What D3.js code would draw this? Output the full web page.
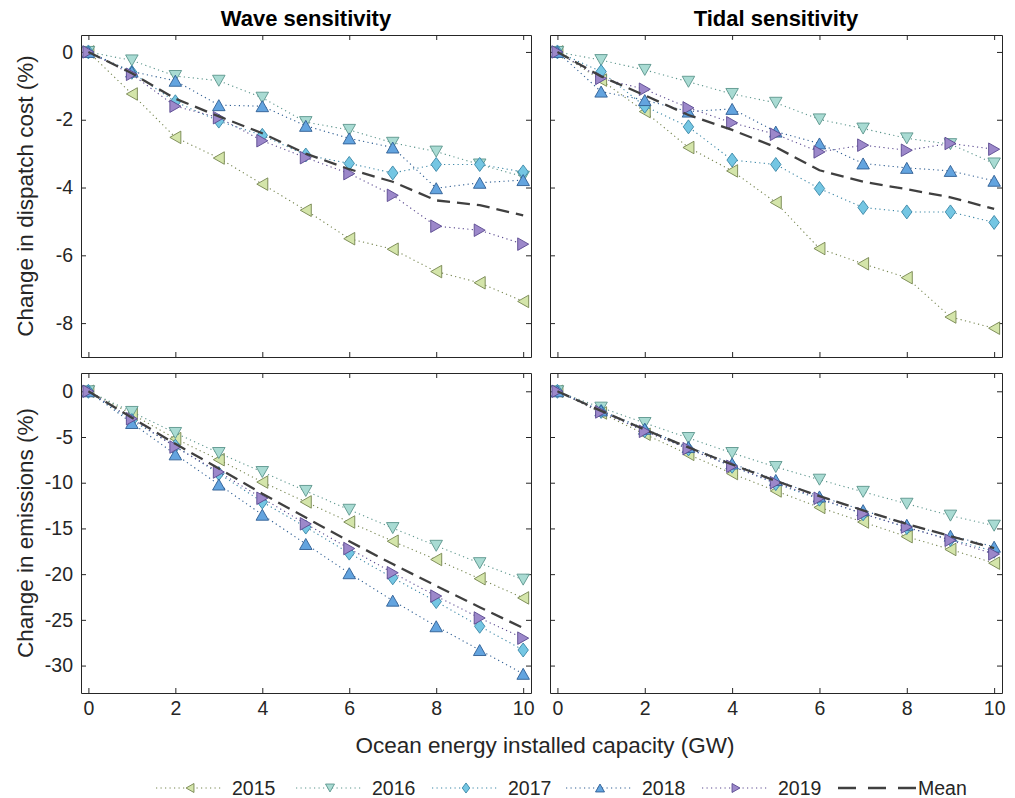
<!DOCTYPE html>
<html>
<head>
<meta charset="utf-8">
<script src="https://cdn.jsdelivr.net/npm/d3@7"></script>
<style>
  body { margin: 0; background: #fff; }
  svg { font-family: "Liberation Sans", Arial, Helvetica, sans-serif; }
</style>
</head>
<body>
<div id="chart"></div>
<script type="text/javascript">

// installed capacity (GW)
var capacity = [0, 1, 2, 3, 4, 5, 6, 7, 8, 9, 10];
var years = ["2015", "2016", "2017", "2018", "2019"];

// change in dispatch cost (%), wave sensitivity, one row per year
var waveCost = [
    [0, -1.24, -2.52, -3.13, -3.90, -4.67, -5.51, -5.82, -6.48, -6.81, -7.36],
    [0, -0.25, -0.71, -0.85, -1.35, -2.07, -2.30, -2.68, -2.94, -3.32, -3.68],
    [0, -0.60, -1.47, -2.04, -2.46, -3.04, -3.29, -3.57, -3.32, -3.32, -3.54],
    [0, -0.58, -0.85, -1.57, -1.60, -2.18, -2.55, -2.82, -4.02, -3.86, -3.78],
    [0, -0.66, -1.60, -1.94, -2.62, -3.12, -3.59, -4.23, -5.14, -5.26, -5.67]
];
var waveCostMean = [0, -0.63, -1.38, -1.90, -2.40, -3.00, -3.46, -3.83, -4.38, -4.52, -4.82];

// change in dispatch cost (%), tidal sensitivity
var tidalCost = [
    [0, -0.83, -1.76, -2.82, -3.51, -4.44, -5.80, -6.25, -6.66, -7.82, -8.15],
    [0, -0.24, -0.53, -0.88, -1.24, -1.50, -1.99, -2.26, -2.55, -2.72, -3.29],
    [0, -0.58, -1.60, -2.21, -3.19, -3.32, -4.03, -4.59, -4.72, -4.72, -5.03],
    [0, -1.17, -1.42, -1.76, -1.68, -2.35, -2.70, -3.29, -3.42, -3.51, -3.80],
    [0, -0.78, -1.10, -1.65, -2.09, -2.43, -2.95, -2.75, -2.90, -2.70, -2.87]
];
var tidalCostMean = [0, -0.72, -1.28, -1.86, -2.30, -2.81, -3.49, -3.83, -4.05, -4.29, -4.63];

// change in emissions (%), wave sensitivity
var waveEm = [
    [0, -2.50, -5.18, -7.48, -9.93, -12.10, -14.30, -16.40, -18.40, -20.50, -22.60],
    [0, -2.26, -4.56, -6.75, -8.83, -10.90, -12.96, -14.96, -16.90, -18.80, -20.60],
    [0, -3.20, -6.00, -9.00, -12.10, -14.85, -17.70, -20.40, -23.00, -25.70, -28.30],
    [0, -3.47, -6.90, -10.20, -13.50, -16.70, -19.90, -22.90, -25.70, -28.30, -30.90],
    [0, -3.00, -6.10, -8.83, -11.70, -14.50, -17.20, -19.85, -22.40, -24.80, -27.00]
];
var waveEmMean = [0, -2.89, -5.75, -8.45, -11.21, -13.81, -16.41, -18.90, -21.28, -23.62, -25.88];

// change in emissions (%), tidal sensitivity
var tidalEm = [
    [0, -2.37, -4.70, -6.90, -9.00, -10.90, -12.70, -14.30, -15.90, -17.30, -18.80],
    [0, -1.79, -3.47, -5.11, -6.75, -8.28, -9.67, -11.00, -12.30, -13.60, -14.70],
    [0, -2.20, -4.30, -6.30, -8.20, -10.10, -11.80, -13.40, -14.90, -16.20, -17.50],
    [0, -2.10, -4.10, -6.10, -7.90, -9.70, -11.50, -13.00, -14.60, -15.80, -17.00],
    [0, -2.26, -4.38, -6.28, -8.20, -10.00, -11.70, -13.40, -14.85, -16.30, -17.80]
];
var tidalEmMean = [0, -2.14, -4.19, -6.14, -8.01, -9.80, -11.47, -13.02, -14.51, -15.84, -17.16];

var xTicks = [0, 2, 4, 6, 8, 10];
var costTicks = [0, -2, -4, -6, -8];
var emTicks = [0, -5, -10, -15, -20, -25, -30];

// styles per year
var fills = ["#d4e5aa", "#a9dbd3", "#74c6e3", "#63a4df", "#9c88ca"];
var edges = ["#75854f", "#5b958c", "#3a86a6", "#2f5e93", "#5a4990"];
var shapes = ["left", "down", "diamond", "up", "right"];
var axisColor = "#262626";

var W = 1015, H = 798;
var svg = d3.select("#chart").append("svg")
    .attr("width", W)
    .attr("height", H);

function markerPath(shape, k) {
    var b = 12.5 * k, h = 11 * k;
    if (shape == "up") return "M0," + (-h / 2) + "L" + (b / 2) + "," + (h / 2) + "L" + (-b / 2) + "," + (h / 2) + "Z";
    if (shape == "down") return "M0," + (h / 2) + "L" + (b / 2) + "," + (-h / 2) + "L" + (-b / 2) + "," + (-h / 2) + "Z";
    if (shape == "left") return "M" + (-h / 2) + ",0L" + (h / 2) + "," + (-b / 2) + "L" + (h / 2) + "," + (b / 2) + "Z";
    if (shape == "right") return "M" + (h / 2) + ",0L" + (-h / 2) + "," + (-b / 2) + "L" + (-h / 2) + "," + (b / 2) + "Z";
    var dh = 7 * k, dw = 5.2 * k;
    return "M0," + (-dh) + "L" + dw + ",0L0," + dh + "L" + (-dw) + ",0Z";
}

var panels = [
    {series: waveCost, mean: waveCostMean, left: 81, right: 531, top: 35, bottom: 357, yDomain: [-9, 0.5], yTicks: costTicks, yLabels: true, xLabels: false, title: "Wave sensitivity"},
    {series: tidalCost, mean: tidalCostMean, left: 550, right: 1002, top: 35, bottom: 357, yDomain: [-9, 0.5], yTicks: costTicks, yLabels: false, xLabels: false, title: "Tidal sensitivity"},
    {series: waveEm, mean: waveEmMean, left: 81, right: 531, top: 373, bottom: 693, yDomain: [-33, 2], yTicks: emTicks, yLabels: true, xLabels: true},
    {series: tidalEm, mean: tidalEmMean, left: 550, right: 1002, top: 373, bottom: 693, yDomain: [-33, 2], yTicks: emTicks, yLabels: false, xLabels: true}
];

panels.forEach(function(p) {
    var x = d3.scaleLinear().domain([-0.17, 10.18]).range([p.left, p.right]);
    var y = d3.scaleLinear().domain(p.yDomain).range([p.bottom, p.top]);
    var g = svg.append("g");

    var fmt = function(d) { return String(d); };
    var none = function() { return ""; };

    var axes = [
        {axis: d3.axisBottom(x).tickValues(xTicks).tickFormat(p.xLabels ? fmt : none).tickPadding(8), tr: "translate(0," + p.bottom + ")"},
        {axis: d3.axisTop(x).tickValues(xTicks).tickFormat(none), tr: "translate(0," + p.top + ")"},
        {axis: d3.axisLeft(y).tickValues(p.yTicks).tickFormat(p.yLabels ? fmt : none).tickPadding(8), tr: "translate(" + p.left + ",0)"},
        {axis: d3.axisRight(y).tickValues(p.yTicks).tickFormat(none), tr: "translate(" + p.right + ",0)"}
    ];
    axes.forEach(function(a) {
        var ag = g.append("g")
            .attr("transform", a.tr)
            .call(a.axis.tickSize(-5).tickSizeOuter(0));
        ag.select(".domain").attr("stroke", axisColor).attr("stroke-width", 1);
        ag.selectAll(".tick line").attr("stroke", axisColor);
        ag.selectAll(".tick text")
            .attr("fill", axisColor)
            .style("font-size", "19.5px")
            .style("font-family", "'Liberation Sans', Arial, sans-serif");
    });

    var line = d3.line()
        .x(function(d, i) { return x(capacity[i]); })
        .y(function(d) { return y(d); });

    p.series.forEach(function(vals, s) {
        g.append("path")
            .datum(vals)
            .attr("d", line)
            .attr("fill", "none")
            .attr("stroke", edges[s])
            .attr("stroke-width", 1.1)
            .attr("stroke-dasharray", "1.2,3.3");
        g.selectAll(".m" + s)
            .data(vals)
            .enter().append("path")
            .attr("class", "m" + s)
            .attr("transform", function(d, i) { return "translate(" + x(capacity[i]) + "," + y(d) + ")"; })
            .attr("d", markerPath(shapes[s], 1))
            .attr("fill", fills[s])
            .attr("stroke", edges[s])
            .attr("stroke-width", 0.9);
    });

    g.append("path")
        .datum(p.mean)
        .attr("d", line)
        .attr("fill", "none")
        .attr("stroke", "#404040")
        .attr("stroke-width", 2.3)
        .attr("stroke-dasharray", "13,7");

    if (p.title) {
        svg.append("text")
            .attr("x", (p.left + p.right) / 2)
            .attr("y", 26)
            .attr("text-anchor", "middle")
            .style("font-size", "22px")
            .style("font-weight", "bold")
            .attr("fill", "#000")
            .text(p.title);
    }
});

// axis labels
svg.append("text")
    .attr("transform", "translate(33,196) rotate(-90)")
    .attr("text-anchor", "middle")
    .style("font-size", "22.5px")
    .attr("fill", axisColor)
    .text("Change in dispatch cost (%)");

svg.append("text")
    .attr("transform", "translate(33,533) rotate(-90)")
    .attr("text-anchor", "middle")
    .style("font-size", "22.5px")
    .attr("fill", axisColor)
    .text("Change in emissions (%)");

svg.append("text")
    .attr("x", 545)
    .attr("y", 753)
    .attr("text-anchor", "middle")
    .style("font-size", "22.5px")
    .attr("fill", axisColor)
    .text("Ocean energy installed capacity (GW)");

// legend
var legendText = [232, 372, 508, 642, 778];
var legY = 788;
years.forEach(function(yr, s) {
    var tx = legendText[s];
    svg.append("line")
        .attr("x1", tx - 76).attr("x2", tx - 10)
        .attr("y1", legY).attr("y2", legY)
        .attr("stroke", edges[s])
        .attr("stroke-width", 1.1)
        .attr("stroke-dasharray", "1.2,3.3");
    svg.append("path")
        .attr("transform", "translate(" + (tx - 42) + "," + legY + ")")
        .attr("d", markerPath(shapes[s], 0.72))
        .attr("fill", fills[s])
        .attr("stroke", edges[s])
        .attr("stroke-width", 0.9);
    svg.append("text")
        .attr("x", tx)
        .attr("y", legY + 7)
        .style("font-size", "19.5px")
        .attr("fill", axisColor)
        .text(yr);
});
svg.append("line")
    .attr("x1", 838).attr("x2", 916)
    .attr("y1", legY).attr("y2", legY)
    .attr("stroke", "#404040")
    .attr("stroke-width", 2.3)
    .attr("stroke-dasharray", "18,12");
svg.append("text")
    .attr("x", 918)
    .attr("y", legY + 7)
    .style("font-size", "19.5px")
    .attr("fill", axisColor)
    .text("Mean");

</script>
</body>
</html>
